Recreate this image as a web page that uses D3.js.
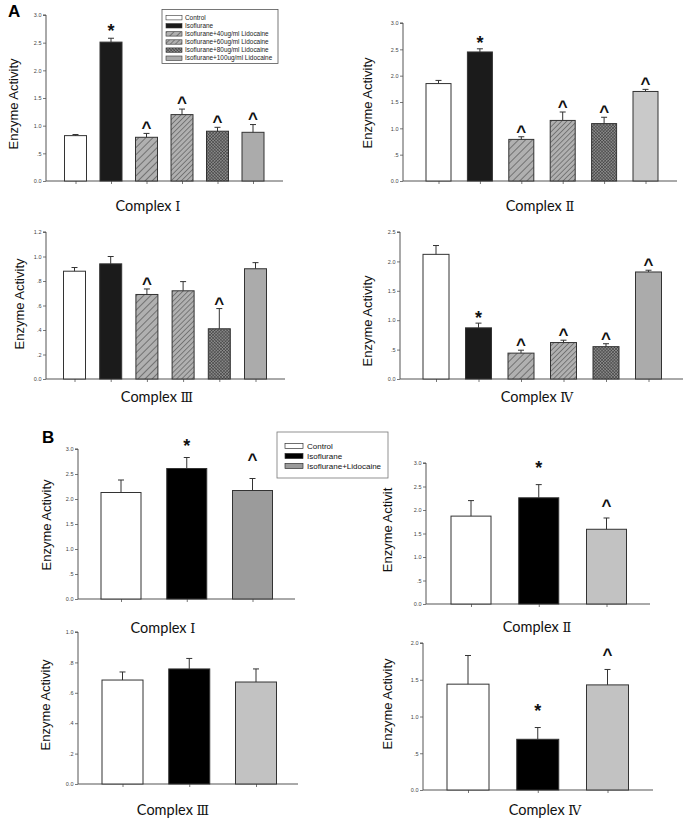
<!DOCTYPE html>
<html><head><meta charset="utf-8">
<script src="https://cdn.jsdelivr.net/npm/d3@7"></script>
<style>body{margin:0;background:#fff}
.ttl{font-family:'Lato','Open Sans',sans-serif;font-size:14.5px}
.num{font-family:'DejaVu Serif',serif;font-size:13px}
</style>
</head><body>
<svg id="chart" width="685" height="820"></svg>
<script>
// ---------------- data ----------------
const groupsA = ["Control", "Isoflurane", "Isoflurane+40ug/ml Lidocaine",
  "Isoflurane+60ug/ml Lidocaine", "Isoflurane+80ug/ml Lidocaine", "Isoflurane+100ug/ml Lidocaine"];
const groupsB = ["Control", "Isoflurane", "Isoflurane+Lidocaine"];
const complexWord = "Complex";
const numerals = ["Ⅰ", "Ⅱ", "Ⅲ", "Ⅳ"];
const yLabel = "Enzyme Activity";
const yLabelCut = "Enzyme Activit";

const a1Values = [0.82, 2.51, 0.79, 1.20, 0.90, 0.88];
const a1Errors = [0.02, 0.07, 0.07, 0.10, 0.07, 0.14];
const a1Marks  = ["", "*", "^", "^", "^", "^"];
const a1Ticks  = [0, 0.5, 1.0, 1.5, 2.0, 2.5, 3.0];
const a1TickLabels = ["0.0", ".5", "1.0", "1.5", "2.0", "2.5", "3.0"];

const a2Values = [1.85, 2.45, 0.79, 1.15, 1.09, 1.70];
const a2Errors = [0.06, 0.06, 0.05, 0.16, 0.12, 0.04];
const a2Marks  = ["", "*", "^", "^", "^", "^"];
const a2Ticks  = [0, 0.5, 1.0, 1.5, 2.0, 2.5, 3.0];
const a2TickLabels = ["0.0", ".5", "1.0", "1.5", "2.0", "2.5", "3.0"];

const a3Values = [0.88, 0.94, 0.69, 0.72, 0.41, 0.90];
const a3Errors = [0.03, 0.06, 0.045, 0.075, 0.165, 0.05];
const a3Marks  = ["", "", "^", "", "^", ""];
const a3Ticks  = [0, 0.2, 0.4, 0.6, 0.8, 1.0, 1.2];
const a3TickLabels = ["0.0", ".2", ".4", ".6", ".8", "1.0", "1.2"];

const a4Values = [2.12, 0.87, 0.44, 0.62, 0.55, 1.82];
const a4Errors = [0.15, 0.08, 0.05, 0.04, 0.05, 0.03];
const a4Marks  = ["", "*", "^", "^", "^", "^"];
const a4Ticks  = [0, 0.5, 1.0, 1.5, 2.0, 2.5];
const a4TickLabels = ["0.0", ".5", "1.0", "1.5", "2.0", "2.5"];

const b1Values = [2.13, 2.61, 2.17];
const b1Errors = [0.25, 0.22, 0.24];
const b1Marks  = ["", "*", "^"];
const b1Ticks  = [0, 0.5, 1.0, 1.5, 2.0, 2.5, 3.0];
const b1TickLabels = ["0.0", ".5", "1.0", "1.5", "2.0", "2.5", "3.0"];

const b2Values = [1.87, 2.26, 1.59];
const b2Errors = [0.33, 0.28, 0.24];
const b2Marks  = ["", "*", "^"];
const b2Ticks  = [0, 0.5, 1.0, 1.5, 2.0, 2.5, 3.0];
const b2TickLabels = ["0.0", ".5", "1.0", "1.5", "2.0", "2.5", "3.0"];

const b3Values = [0.684, 0.757, 0.671];
const b3Errors = [0.053, 0.069, 0.086];
const b3Marks  = ["", "", ""];
const b3Ticks  = [0, 0.2, 0.4, 0.6, 0.8, 1.0];
const b3TickLabels = ["0.0", ".2", ".4", ".6", ".8", "1.0"];

const b4Values = [1.44, 0.69, 1.43];
const b4Errors = [0.39, 0.16, 0.21];
const b4Marks  = ["", "*", "^"];
const b4Ticks  = [0, 0.5, 1.0, 1.5, 2.0];
const b4TickLabels = ["0.0", ".5", "1.0", "1.5", "2.0"];

// ---------------- layout / style ----------------
const fillsA = ["#ffffff", "#1b1b1b", "url(#h40)", "url(#h60)", "url(#h80)", "#ababab"];
const fillsA2 = ["#ffffff", "#1b1b1b", "url(#h40)", "url(#h60)", "url(#h80)", "#c9c9c9"];
const fillsB1 = ["#ffffff", "#000000", "#9b9b9b"];
const fillsB = ["#ffffff", "#000000", "#c2c2c2"];

const panels = [
  {groups: groupsA, values: a1Values, errors: a1Errors, marks: a1Marks, ticks: a1Ticks, tickLabels: a1TickLabels,
   numeral: 0, label: yLabel, fills: fillsA,
   ax: 46, xEnd: 283, y0: 181, yTop: 15, c0: 75.5, c1: 253, bw: 22, titleX: 148, titleY: 211, labX: 13, labY: 104, gap: 9.5, starGap: 11},
  {groups: groupsA, values: a2Values, errors: a2Errors, marks: a2Marks, ticks: a2Ticks, tickLabels: a2TickLabels,
   numeral: 1, label: yLabel, fills: fillsA2,
   ax: 403, xEnd: 677, y0: 181, yTop: 23, c0: 438.5, c1: 645.5, bw: 25, titleX: 540, titleY: 211, labX: 367, labY: 103, gap: 9, starGap: 9.5},
  {groups: groupsA, values: a3Values, errors: a3Errors, marks: a3Marks, ticks: a3Ticks, tickLabels: a3TickLabels,
   numeral: 2, label: yLabel, fills: fillsA,
   ax: 46, xEnd: 285, y0: 379, yTop: 232, c0: 74.5, c1: 255.5, bw: 22, titleX: 157, titleY: 402, labX: 19, labY: 304, gap: 8.5, starGap: 9},
  {groups: groupsA, values: a4Values, errors: a4Errors, marks: a4Marks, ticks: a4Ticks, tickLabels: a4TickLabels,
   numeral: 3, label: yLabel, fills: fillsA,
   ax: 400, xEnd: 683, y0: 379, yTop: 232, c0: 436, c1: 648.5, bw: 26, titleX: 537, titleY: 402, labX: 367, labY: 321, gap: 9, starGap: 9},
  {groups: groupsB, values: b1Values, errors: b1Errors, marks: b1Marks, ticks: b1Ticks, tickLabels: b1TickLabels,
   numeral: 0, label: yLabel, fills: fillsB1,
   ax: 78, xEnd: 295, y0: 599, yTop: 449, c0: 121, c1: 252.5, bw: 40, titleX: 163, titleY: 633, labX: 46, labY: 525, gap: 22, starGap: 15},
  {groups: groupsB, values: b2Values, errors: b2Errors, marks: b2Marks, ticks: b2Ticks, tickLabels: b2TickLabels,
   numeral: 1, label: yLabelCut, fills: fillsB,
   ax: 426, xEnd: 650, y0: 604, yTop: 463, c0: 471, c1: 606.5, bw: 40, titleX: 537, titleY: 632, labX: 387, labY: 530, gap: 15.5, starGap: 20},
  {groups: groupsB, values: b3Values, errors: b3Errors, marks: b3Marks, ticks: b3Ticks, tickLabels: b3TickLabels,
   numeral: 2, label: yLabel, fills: fillsB,
   ax: 78, xEnd: 298, y0: 784, yTop: 632, c0: 122.5, c1: 256, bw: 41, titleX: 173, titleY: 815, labX: 45, labY: 705, gap: 18, starGap: 18},
  {groups: groupsB, values: b4Values, errors: b4Errors, marks: b4Marks, ticks: b4Ticks, tickLabels: b4TickLabels,
   numeral: 3, label: yLabel, fills: fillsB,
   ax: 423, xEnd: 653, y0: 790, yTop: 643, c0: 468, c1: 607.5, bw: 42, titleX: 545, titleY: 815, labX: 387, labY: 704, gap: 18, starGap: 20}
];

const svg = d3.select("#chart");
svg.append("rect").attr("width", 685).attr("height", 820).attr("fill", "#fff");

// patterns
const defs = svg.append("defs");
function hatch(id, spacing, bg, stroke, sw, cross) {
  const p = defs.append("pattern").attr("id", id).attr("patternUnits", "userSpaceOnUse")
    .attr("width", spacing).attr("height", spacing).attr("patternTransform", "rotate(45)");
  p.append("rect").attr("width", spacing).attr("height", spacing).attr("fill", bg);
  p.append("line").attr("x1", 0).attr("y1", 0).attr("x2", 0).attr("y2", spacing)
    .attr("stroke", stroke).attr("stroke-width", sw);
  if (cross) p.append("line").attr("x1", 0).attr("y1", 0).attr("x2", spacing).attr("y2", 0)
    .attr("stroke", stroke).attr("stroke-width", sw);
}
hatch("h40", 5, "#b0b0b0", "#333", 1, false);
hatch("h60", 3.6, "#b0b0b0", "#333", 0.9, false);
hatch("h80", 2.2, "#8a8a8a", "#2a2a2a", 0.8, true);

const axisColor = "#555";

panels.forEach(p => {
  const g = svg.append("g");
  const yMax = d3.max(p.ticks);
  const y = d3.scaleLinear().domain([0, yMax]).range([p.y0, p.yTop]);
  const x = d3.scalePoint().domain(p.groups).range([p.c0, p.c1]);

  // y axis via d3.axisLeft
  const yAxis = d3.axisLeft(y).tickValues(p.ticks).tickSize(3).tickPadding(1.5)
    .tickFormat((d, i) => p.tickLabels[i]);
  const ya = g.append("g").attr("transform", `translate(${p.ax},0)`).call(yAxis);
  ya.select(".domain").attr("stroke", axisColor).attr("stroke-width", 1)
    .attr("d", `M-3,${p.yTop}H0V${p.y0}`);
  ya.selectAll(".tick line").attr("stroke", axisColor).attr("stroke-width", 0.8);
  ya.selectAll(".tick text").attr("font-family", "Liberation Sans, Arial, sans-serif")
    .attr("font-size", 5.5).attr("fill", "#444");

  // x axis
  const xAxis = d3.axisBottom(x).tickSize(3).tickFormat("");
  const xa = g.append("g").attr("transform", `translate(0,${p.y0})`).call(xAxis);
  xa.select(".domain").attr("stroke", axisColor).attr("stroke-width", 1)
    .attr("d", `M${p.ax},0H${p.xEnd}`);
  xa.selectAll(".tick line").attr("stroke", axisColor).attr("stroke-width", 0.8);

  // bars
  g.selectAll("rect.bar").data(p.values).enter().append("rect")
    .attr("x", (d, i) => x(p.groups[i]) - p.bw / 2)
    .attr("y", d => y(d))
    .attr("width", p.bw)
    .attr("height", d => p.y0 - y(d))
    .attr("fill", (d, i) => p.fills[i])
    .attr("stroke", "#333").attr("stroke-width", 1);

  // error bars (upper only)
  p.values.forEach((v, i) => {
    const cx = x(p.groups[i]);
    const top = y(v + p.errors[i]);
    g.append("line").attr("x1", cx).attr("x2", cx).attr("y1", y(v)).attr("y2", top)
      .attr("stroke", "#333").attr("stroke-width", 1);
    g.append("line").attr("x1", cx - 3).attr("x2", cx + 3).attr("y1", top).attr("y2", top)
      .attr("stroke", "#333").attr("stroke-width", 1);
    const m = p.marks[i];
    if (m) {
      const fs = m === "*" ? 18 : 17;
      const center = top - (m === "*" ? p.starGap : p.gap);
      g.append("text").attr("x", cx).attr("y", center + 0.52 * fs)
        .attr("text-anchor", "middle").attr("font-family", "Liberation Sans, Arial, sans-serif")
        .attr("font-weight", "bold").attr("font-size", fs).attr("fill", "#111").text(m);
    }
  });

  // y label
  g.append("text").attr("transform", `translate(${p.labX},${p.labY}) rotate(-90)`)
    .attr("text-anchor", "middle").attr("dy", "0.35em")
    .attr("font-family", "Liberation Sans, Arial, sans-serif").attr("font-size", 13)
    .attr("fill", "#111").text(p.label);

  // title
  const t = g.append("text").attr("x", p.titleX).attr("y", p.titleY).attr("text-anchor", "middle")
    .attr("fill", "#111");
  t.append("tspan").attr("class", "ttl").text(complexWord + " ");
  t.append("tspan").attr("class", "num").text(numerals[p.numeral]);
});

// panel letters
svg.append("text").attr("x", 8).attr("y", 17).attr("font-family", "Liberation Sans, Arial, sans-serif")
  .attr("font-weight", "bold").attr("font-size", 17).attr("fill", "#000").text("A");
svg.append("text").attr("x", 42).attr("y", 443).attr("font-family", "Liberation Sans, Arial, sans-serif")
  .attr("font-weight", "bold").attr("font-size", 17).attr("fill", "#000").text("B");

// legend A
const legA = svg.append("g");
legA.append("rect").attr("x", 162).attr("y", 9.5).attr("width", 116).attr("height", 54)
  .attr("fill", "#fff").attr("stroke", "#555").attr("stroke-width", 0.8);
groupsA.forEach((name, i) => {
  const yy = 17.7 + i * 8.1;
  legA.append("rect").attr("x", 166).attr("y", yy - 2.2).attr("width", 16).attr("height", 4.4)
    .attr("fill", fillsA[i]).attr("stroke", "#333").attr("stroke-width", 0.6);
  legA.append("text").attr("x", 185).attr("y", yy + 2.2).attr("font-family", "Liberation Sans, Arial, sans-serif")
    .attr("font-size", 6.4).attr("fill", "#222").text(name);
});

// legend B
const legB = svg.append("g");
legB.append("rect").attr("x", 277).attr("y", 432).attr("width", 111).attr("height", 46)
  .attr("fill", "#fff").attr("stroke", "#777").attr("stroke-width", 0.8);
groupsB.forEach((name, i) => {
  const yy = 446 + i * 10;
  legB.append("rect").attr("x", 285).attr("y", yy - 2.6).attr("width", 18).attr("height", 5.2)
    .attr("fill", fillsB1[i]).attr("stroke", "#333").attr("stroke-width", 0.7);
  legB.append("text").attr("x", 307).attr("y", yy + 3).attr("font-family", "Liberation Sans, Arial, sans-serif")
    .attr("font-size", 8).attr("fill", "#111").text(name);
});
</script>
</body></html>
